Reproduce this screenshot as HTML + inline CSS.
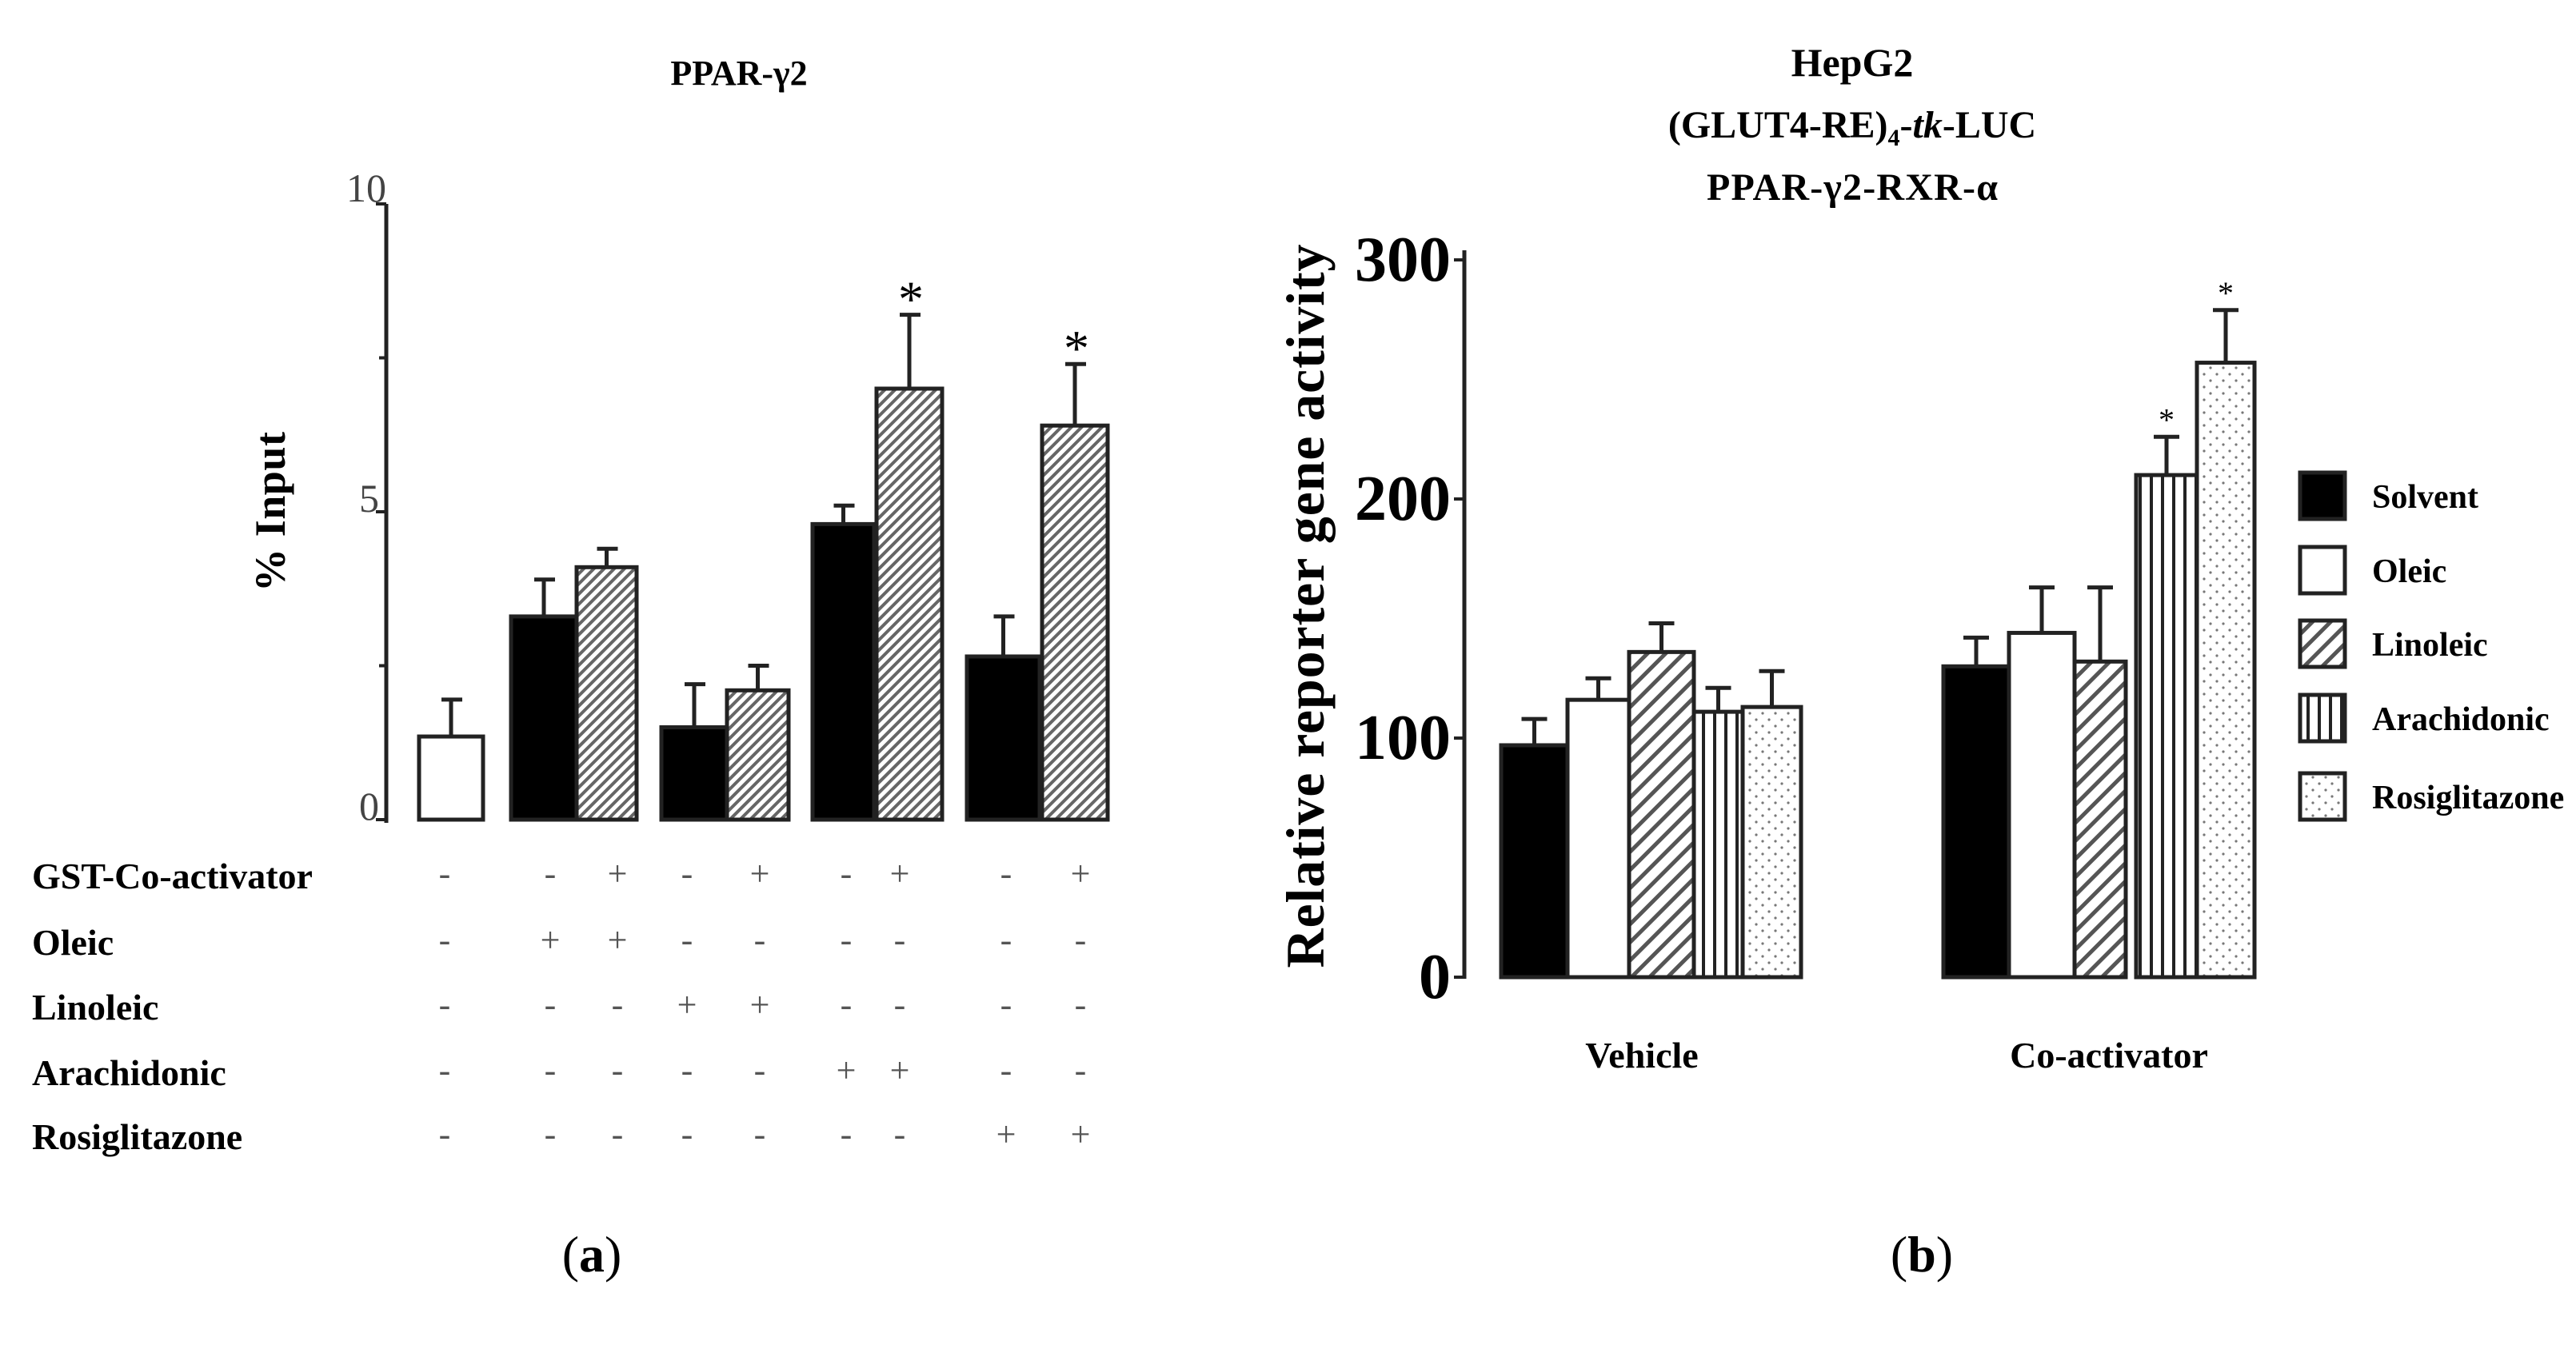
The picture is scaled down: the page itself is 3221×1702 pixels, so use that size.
<!DOCTYPE html>
<html><head><meta charset="utf-8"><style>
html,body{margin:0;padding:0;background:#fff;}
svg{display:block;font-family:"Liberation Serif",serif;}
</style></head><body>
<svg id="fig" width="3221" height="1702" viewBox="0 0 3221 1702" xmlns="http://www.w3.org/2000/svg">
<defs>
<pattern id="hatchA" width="9" height="9" patternUnits="userSpaceOnUse" patternTransform="rotate(45)">
<rect width="9" height="9" fill="#fff"/><rect width="4" height="9" fill="#666"/></pattern>
<pattern id="hatchB" width="16" height="16" patternUnits="userSpaceOnUse" patternTransform="rotate(45)">
<rect width="16" height="16" fill="#fff"/><rect width="5" height="16" fill="#555"/></pattern>
<pattern id="vert" width="14" height="14" patternUnits="userSpaceOnUse">
<rect width="14" height="14" fill="#fff"/><rect width="4" height="14" fill="#222"/></pattern>
<pattern id="dots" width="16" height="16" patternUnits="userSpaceOnUse">
<rect width="16" height="16" fill="#fff"/><circle cx="4" cy="4" r="1.6" fill="#777"/><circle cx="12" cy="12" r="1.6" fill="#777"/></pattern>
</defs>
<g id="pa"></g>
<g id="pb"></g>
<text x="740" y="1590" font-size="64" text-anchor="middle">(<tspan font-weight="bold">a</tspan>)</text>
<text x="2403" y="1590" font-size="64" text-anchor="middle">(<tspan font-weight="bold">b</tspan>)</text>
</svg>
<script>
// ---- Panel A data ----
const aValues=[1.35,3.3,4.1,1.5,2.1,4.8,7.0,2.65,6.4];
const aErrors=[0.6,0.6,0.3,0.7,0.4,0.3,1.2,0.65,1.0];
const aFills=['white','black','hatch','black','hatch','black','hatch','black','hatch'];
const aStars=[false,false,false,false,false,false,true,false,true];
const aTicks=[0,5,10];
const rowLabels=['GST-Co-activator','Oleic','Linoleic','Arachidonic','Rosiglitazone'];
const rowSigns=[
['-','-','+','-','+','-','+','-','+'],
['-','+','+','-','-','-','-','-','-'],
['-','-','-','+','+','-','-','-','-'],
['-','-','-','-','-','+','+','-','-'],
['-','-','-','-','-','-','-','+','+']];
// ---- Panel B data ----
const bGroups=['Vehicle','Co-activator'];
const bSeries=['Solvent','Oleic','Linoleic','Arachidonic','Rosiglitazone'];
const bVehicle=[97,116,136,111,113];
const bVehicleErr=[11,9,12,10,15];
const bCoact=[130,144,132,210,257];
const bCoactErr=[12,19,31,16,22];
const bStars=[[],[3,4]];
const bTicks=[0,100,200,300];

const NS='http://www.w3.org/2000/svg';
function mk(parent,tag,attrs,text){const e=document.createElementNS(NS,tag);for(const k in attrs)e.setAttribute(k,attrs[k]);if(text!==undefined)e.textContent=text;parent.appendChild(e);return e;}

// Panel A
const pa=document.getElementById('pa');
const ay=v=>1025-v*77;
const aX=[524,639,721,827,909,1016,1096,1209,1303];
const aW=[80,82,75,82,77,77,82,91,82];
const colX=[556,688,772,859,950,1058,1125,1258,1351];
let t=mk(pa,'text',{x:924,y:106,'font-size':44,'font-weight':'bold','text-anchor':'middle'},'PPAR-γ2');

let ax=mk(pa,'line',{x1:483,y1:ay(10),x2:483,y2:ay(0)+4,stroke:'#222','stroke-width':5});

aTicks.forEach(v=>{
 const l=mk(pa,'line',{x1:470,y1:ay(v),x2:483,y2:ay(v),stroke:'#222','stroke-width':4});
 
 const tx=mk(pa,'text',{x:v===10?483:474,y:ay(v)+(v===10?-3:0),'font-size':50,fill:'#444','text-anchor':'end'},String(v));
 
});
[2.5,7.5].forEach(v=>{const l=mk(pa,'line',{x1:474,y1:ay(v),x2:483,y2:ay(v),stroke:'#222','stroke-width':4});
 });
t=mk(pa,'text',{x:0,y:0,'font-size':54,'font-weight':'bold','text-anchor':'middle',textLength:200,transform:'translate(356,640) rotate(-90)'},'% Input');

aValues.forEach((v,i)=>{
 const cx=aX[i]+aW[i]/2;
 const el=mk(pa,'line',{x1:cx,y1:ay(v),x2:cx,y2:ay(v+aErrors[i]),stroke:'#222','stroke-width':5});
 
 const cap=mk(pa,'line',{x1:cx-12,y1:ay(v+aErrors[i]),x2:cx+14,y2:ay(v+aErrors[i]),stroke:'#222','stroke-width':5});
 
 const f=aFills[i]==='black'?'#000':aFills[i]==='white'?'#fff':'url(#hatchA)';
 const r=mk(pa,'rect',{x:aX[i],y:ay(v),width:aW[i],height:ay(0)-ay(v),fill:f,stroke:'#222','stroke-width':5});
 
 if(aStars[i]){const s=mk(pa,'text',{x:cx+2,y:ay(v+aErrors[i])+2,'font-size':64,'text-anchor':'middle'},'*');
  }
});
const rowY=[1111,1194,1275,1357,1437];
rowLabels.forEach((lab,r)=>{
 const tl=mk(pa,'text',{x:40,y:rowY[r],'font-size':46,'font-weight':'bold'},lab);
 
 rowSigns[r].forEach((s,c)=>{
  const ts=mk(pa,'text',{x:colX[c],y:rowY[r]-4,'font-size':44,fill:'#555','text-anchor':'middle'},s);
  
 });
});

// Panel B
const pb=document.getElementById('pb');
const by=v=>1222-v*2.99;
t=mk(pb,'text',{x:2316,y:95,'font-size':50,'font-weight':'bold','text-anchor':'middle'},'HepG2');

t=mk(pb,'text',{x:2316,y:172,'font-size':48,'font-weight':'bold','text-anchor':'middle'});

t.innerHTML='(GLUT4-RE)<tspan font-size="30" dy="10">4</tspan><tspan dy="-10">-</tspan><tspan font-style="italic">tk</tspan>-LUC';
t=mk(pb,'text',{x:2316,y:250,'font-size':48,'font-weight':'bold','text-anchor':'middle',textLength:364},'PPAR-γ2-RXR-α');

ax=mk(pb,'line',{x1:1831,y1:by(300)-12,x2:1831,y2:by(0)+2,stroke:'#222','stroke-width':5});

bTicks.forEach(v=>{
 const l=mk(pb,'line',{x1:1818,y1:by(v),x2:1831,y2:by(v),stroke:'#222','stroke-width':4});
 
 const tx=mk(pb,'text',{x:1814,y:by(v)+26,'font-size':80,'font-weight':'bold','text-anchor':'end'},String(v));
 
});
t=mk(pb,'text',{x:0,y:0,'font-size':68,'font-weight':'bold','text-anchor':'middle',textLength:905,transform:'translate(1655,758) rotate(-90)'},'Relative reporter  gene activity');

const bFills=['#000','#fff','url(#hatchB)','url(#vert)','url(#dots)'];
const groupX=[[1877,1960,2037,2118,2179],[2430,2512,2594,2671,2747]];
const groupW=[[83,77,81,61,73],[82,82,64,76,72]];
const groupCX=[2053,2637];
const bVals=[bVehicle,bCoact],bErrs=[bVehicleErr,bCoactErr];
bGroups.forEach((g,gi)=>{
 bVals[gi].forEach((v,i)=>{
  const x=groupX[gi][i],w=groupW[gi][i],cx=x+w/2,e=bErrs[gi][i];
  const el=mk(pb,'line',{x1:cx,y1:by(v),x2:cx,y2:by(v+e),stroke:'#222','stroke-width':5});
  
  const cap=mk(pb,'line',{x1:cx-16,y1:by(v+e),x2:cx+16,y2:by(v+e),stroke:'#222','stroke-width':5});
  
  const r=mk(pb,'rect',{x:x,y:by(v),width:w,height:by(0)-by(v),fill:bFills[i],stroke:'#222','stroke-width':5});
  
  if(bStars[gi].includes(i)){const s=mk(pb,'text',{x:cx,y:by(v+e)-8,'font-size':40,'text-anchor':'middle'},'*');
   }
 });
 const gl=mk(pb,'text',{x:groupCX[gi],y:1335,'font-size':46,'font-weight':'bold','text-anchor':'middle'},g);
 
});
const legY=[620,713,805,898,996];
bSeries.forEach((s,i)=>{
 const r=mk(pb,'rect',{x:2876,y:legY[i]-29,width:56,height:58,fill:bFills[i],stroke:'#222','stroke-width':5});
 
 const tx=mk(pb,'text',{x:2966,y:legY[i]+15,'font-size':42,'font-weight':'bold'},s);
 
});
</script>
</body></html>
